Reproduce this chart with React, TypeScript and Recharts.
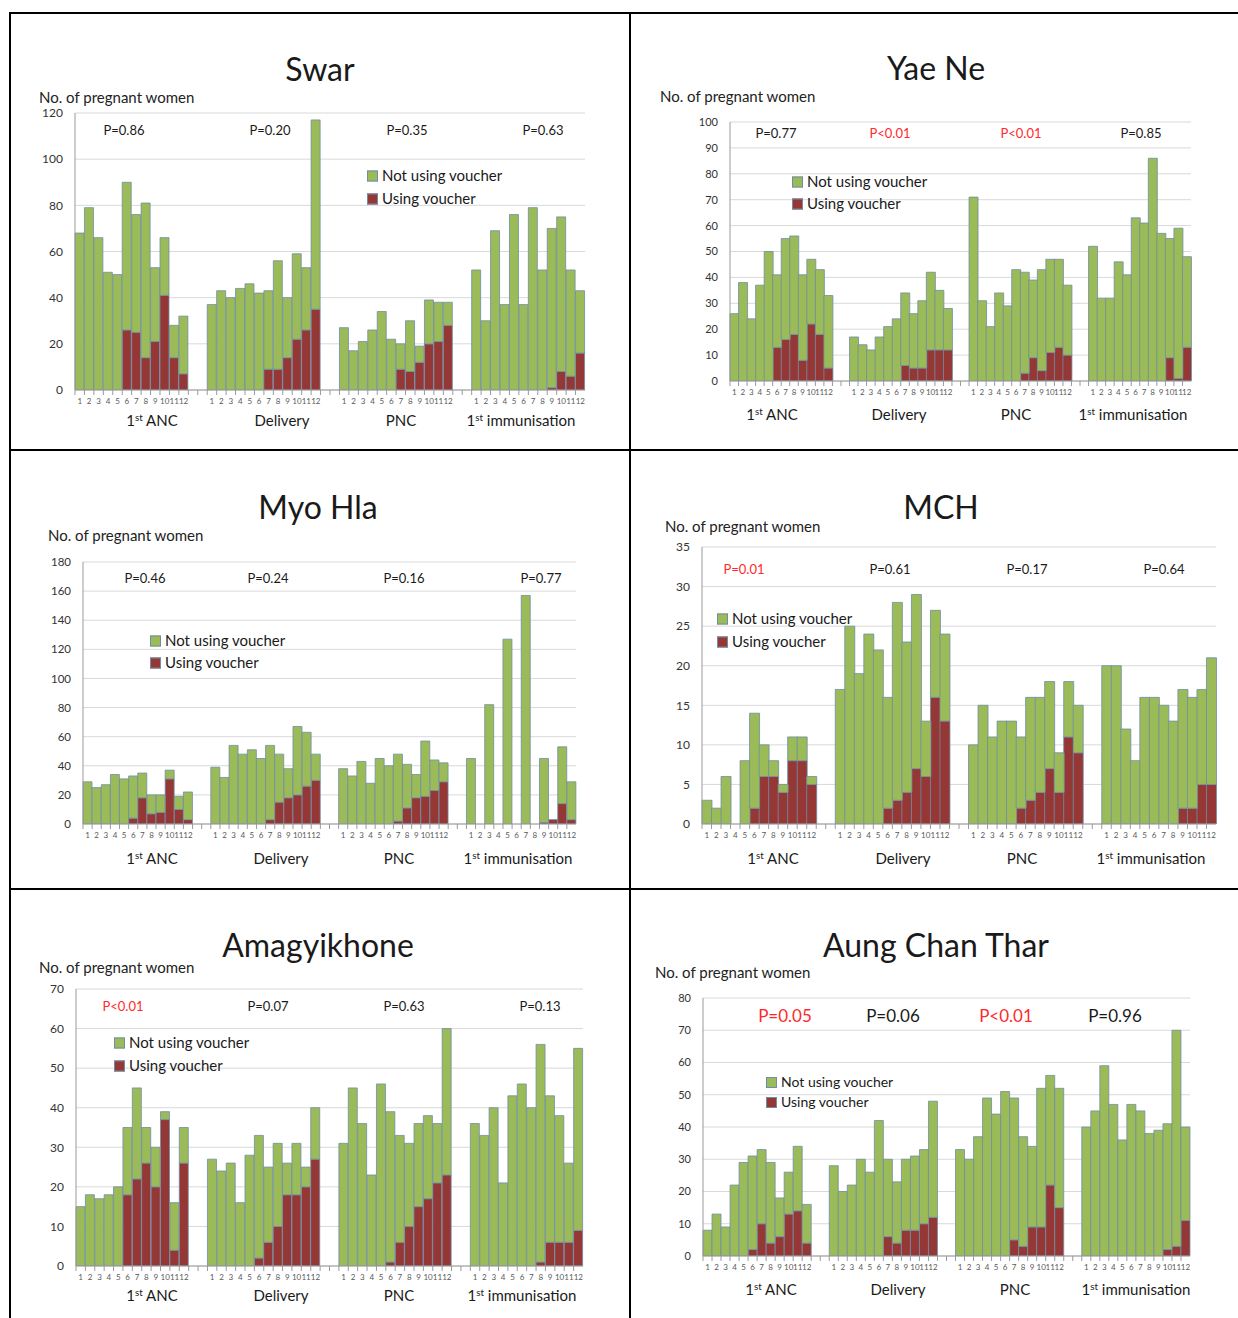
import { Bar, BarChart, CartesianGrid, XAxis, YAxis } from "recharts";

const groups = ["1st ANC", "Delivery", "PNC", "1st immunisation"];
const months = ["1", "2", "3", "4", "5", "6", "7", "8", "9", "10", "11", "12"];

// totals (bar height) and the "using voucher" part, 12 months x 4 services
const swarTotal = [
  68, 79, 66, 51, 50, 90, 76, 81, 53, 66, 28, 32,
  37, 43, 40, 44, 46, 42, 43, 56, 40, 59, 53, 117,
  27, 17, 21, 26, 34, 22, 20, 30, 19, 39, 38, 38,
  52, 30, 69, 37, 76, 37, 79, 52, 70, 75, 52, 43,
];
const swarUsing = [
  0, 0, 0, 0, 0, 26, 25, 14, 21, 41, 14, 7,
  0, 0, 0, 0, 0, 0, 9, 9, 14, 22, 26, 35,
  0, 0, 0, 0, 0, 0, 9, 8, 12, 20, 21, 28,
  0, 0, 0, 0, 0, 0, 0, 0, 1, 8, 6, 16,
];
const yaeNeTotal = [
  26, 38, 24, 37, 50, 41, 55, 56, 41, 47, 43, 33,
  17, 14, 12, 17, 21, 24, 34, 26, 31, 42, 35, 28,
  71, 31, 21, 34, 29, 43, 42, 39, 43, 47, 47, 37,
  52, 32, 32, 46, 41, 63, 61, 86, 57, 55, 59, 48,
];
const yaeNeUsing = [
  0, 0, 0, 0, 0, 13, 16, 18, 8, 22, 18, 5,
  0, 0, 0, 0, 0, 0, 6, 5, 5, 12, 12, 12,
  0, 0, 0, 0, 0, 0, 3, 9, 4, 11, 13, 10,
  0, 0, 0, 0, 0, 0, 0, 0, 0, 9, 1, 13,
];
const myoHlaTotal = [
  29, 25, 27, 34, 31, 33, 35, 20, 20, 37, 19, 22,
  39, 32, 54, 48, 51, 45, 54, 48, 38, 67, 63, 48,
  38, 33, 43, 28, 45, 40, 48, 41, 34, 57, 44, 42,
  45, 0, 82, 0, 127, 0, 157, 0, 45, 3, 53, 29,
];
const myoHlaUsing = [
  0, 0, 0, 0, 0, 4, 18, 7, 8, 31, 10, 3,
  0, 0, 0, 0, 0, 0, 3, 15, 18, 20, 26, 30,
  0, 0, 0, 0, 0, 0, 2, 11, 18, 19, 23, 29,
  0, 0, 0, 0, 0, 0, 0, 0, 1, 3, 14, 3,
];
const mchTotal = [
  3, 2, 6, 0, 8, 14, 10, 8, 5, 11, 11, 6,
  17, 25, 19, 24, 22, 16, 28, 23, 29, 13, 27, 24,
  10, 15, 11, 13, 13, 11, 16, 16, 18, 9, 18, 15,
  20, 20, 12, 8, 16, 16, 15, 13, 17, 16, 17, 21,
];
const mchUsing = [
  0, 0, 0, 0, 0, 2, 6, 6, 4, 8, 8, 5,
  0, 0, 0, 0, 0, 2, 3, 4, 7, 6, 16, 13,
  0, 0, 0, 0, 0, 2, 3, 4, 7, 4, 11, 9,
  0, 0, 0, 0, 0, 0, 0, 0, 2, 2, 5, 5,
];
const amagTotal = [
  15, 18, 17, 18, 20, 35, 45, 35, 30, 39, 16, 35,
  27, 24, 26, 16, 28, 33, 25, 31, 26, 31, 25, 40,
  31, 45, 36, 23, 46, 39, 33, 31, 36, 38, 36, 60,
  36, 33, 40, 21, 43, 46, 40, 56, 43, 38, 26, 55,
];
const amagUsing = [
  0, 0, 0, 0, 0, 18, 22, 26, 20, 37, 4, 26,
  0, 0, 0, 0, 0, 2, 6, 10, 18, 18, 20, 27,
  0, 0, 0, 0, 0, 1, 6, 10, 15, 17, 21, 23,
  0, 0, 0, 0, 0, 0, 0, 1, 6, 6, 6, 9,
];
const actTotal = [
  8, 13, 9, 22, 29, 31, 33, 29, 18, 26, 34, 16,
  28, 20, 22, 30, 26, 42, 30, 23, 30, 31, 33, 48,
  33, 30, 37, 49, 44, 51, 49, 37, 34, 52, 56, 52,
  40, 45, 59, 47, 36, 47, 45, 38, 39, 41, 70, 40,
];
const actUsing = [
  0, 0, 0, 0, 0, 2, 10, 4, 6, 13, 14, 4,
  0, 0, 0, 0, 0, 0, 6, 4, 8, 8, 10, 12,
  0, 0, 0, 0, 0, 0, 5, 3, 9, 9, 22, 15,
  0, 0, 0, 0, 0, 0, 0, 0, 0, 2, 3, 11,
];

const swarP = ["P=0.86", "P=0.20", "P=0.35", "P=0.63"];
const yaeNeP = ["P=0.77", "P<0.01", "P<0.01", "P=0.85"];
const myoHlaP = ["P=0.46", "P=0.24", "P=0.16", "P=0.77"];
const mchP = ["P=0.01", "P=0.61", "P=0.17", "P=0.64"];
const amagP = ["P<0.01", "P=0.07", "P=0.63", "P=0.13"];
const actP = ["P=0.05", "P=0.06", "P<0.01", "P=0.96"];

const GREEN = "#9BBB59";
const RED = "#953735";
const EDGE = "#6F8DA6";
const SIG = "#FF2A2A";

function buildRows(total: number[], using: number[]) {
  const rows: any[] = [];
  groups.forEach((_, g) => {
    months.forEach((m, i) => {
      const t = total[g * 12 + i];
      const u = using[g * 12 + i];
      rows.push({ key: `${g}:${m}`, using: u, notUsing: t - u });
    });
    if (g < groups.length - 1) {
      rows.push({ key: `${g}:gapA`, using: 0, notUsing: 0 });
      rows.push({ key: `${g}:gapB`, using: 0, notUsing: 0 });
    }
  });
  return rows;
}

function ticksTo(max: number, step: number) {
  const out: number[] = [];
  for (let v = 0; v <= max; v += step) out.push(v);
  return out;
}

const centered = (x: number, y: number): any => ({
  position: "absolute",
  left: x,
  top: y,
  transform: "translate(-50%, -50%)",
  whiteSpace: "nowrap",
  lineHeight: 1,
});
const leftMid = (x: number, y: number): any => ({
  position: "absolute",
  left: x,
  top: y,
  transform: "translate(0, -50%)",
  whiteSpace: "nowrap",
  lineHeight: 1,
});

function GroupLabel({ text }: { text: string }) {
  if (text.startsWith("1st")) {
    return (
      <span>
        1<sup style={{ fontSize: "0.65em", verticalAlign: "0.45em" }}>st</sup>
        {text.slice(3)}
      </span>
    );
  }
  return <span>{text}</span>;
}

function Panel({ cfg }: { cfg: any }) {
  const rows = buildRows(cfg.total, cfg.using);
  const plotW = cfg.plot.right - cfg.plot.left;
  const slot = plotW / rows.length;
  const padL = 50;
  const padT = 10;
  const padR = 10;
  const padB = 30;
  const w = plotW + padL + padR;
  const h = cfg.plot.bottom - cfg.plot.top + padT + padB;

  const tick = (p: any) => {
    const raw = String(p.payload.value).split(":")[1];
    const label = raw.startsWith("gap") ? "" : raw;
    const axisY = p.y - 4;
    return (
      <g>
        <line x1={p.x - slot / 2} x2={p.x - slot / 2} y1={axisY} y2={axisY + 5} stroke="#9a9a9a" />
        {label && (
          <text x={p.x} y={p.y + 10} textAnchor="middle" fontSize={8} fill="#595959">
            {label}
          </text>
        )}
      </g>
    );
  };

  return (
    <>
      <div style={{ ...centered(cfg.title[0], cfg.title[1]), fontSize: 32, color: "#1a1a1a" }}>{cfg.name}</div>
      <div style={{ ...leftMid(cfg.yLabel[0], cfg.yLabel[1]), fontSize: 15, color: "#222" }}>No. of pregnant women</div>
      <div style={{ position: "absolute", left: cfg.plot.left - padL, top: cfg.plot.top - padT }}>
        <BarChart
          width={w}
          height={h}
          data={rows}
          margin={{ top: padT, right: padR, left: 0, bottom: 0 }}
          barCategoryGap={0}
          barGap={0}
        >
          <CartesianGrid vertical={false} stroke="#D9D9D9" />
          <XAxis
            dataKey="key"
            interval={0}
            height={padB}
            tickSize={0}
            tickMargin={4}
            stroke="#9a9a9a"
            tick={tick}
          />
          <YAxis
            width={padL}
            domain={[0, cfg.yMax]}
            ticks={ticksTo(cfg.yMax, cfg.yStep)}
            allowDataOverflow
            tickLine={false}
            tickSize={0}
            tickMargin={12}
            stroke="#9a9a9a"
            tick={{ fontSize: cfg.yFont, fill: "#333" }}
          />
          <Bar dataKey="using" stackId="s" fill={RED} stroke={EDGE} strokeWidth={0.8} isAnimationActive={false} />
          <Bar dataKey="notUsing" stackId="s" fill={GREEN} stroke={EDGE} strokeWidth={0.8} isAnimationActive={false} />
        </BarChart>
      </div>
      {cfg.p.map((t: string, i: number) => (
        <div
          key={"p" + i}
          style={{
            ...centered(cfg.pX[i], cfg.pY),
            fontSize: cfg.pFont,
            color: cfg.pRed[i] ? SIG : "#1a1a1a",
          }}
        >
          {t}
        </div>
      ))}
      {groups.map((g, i) => (
        <div key={"g" + i} style={{ ...centered(cfg.gX[i], cfg.gY), fontSize: 15, color: "#1a1a1a" }}>
          <GroupLabel text={g} />
        </div>
      ))}
      {[
        { c: GREEN, t: "Not using voucher", y: cfg.legend[1] },
        { c: RED, t: "Using voucher", y: cfg.legend[2] },
      ].map((l, i) => (
        <div key={"l" + i} style={{ ...leftMid(cfg.legend[0], l.y), fontSize: cfg.legendFont, color: "#1a1a1a" }}>
          <span
            style={{
              display: "inline-block",
              width: 9,
              height: 9,
              background: l.c,
              border: `1px solid ${EDGE}`,
              marginRight: 4,
              verticalAlign: "-1px",
            }}
          />
          {l.t}
        </div>
      ))}
    </>
  );
}

const panels = [
  {
    name: "Swar", total: swarTotal, using: swarUsing, p: swarP, pRed: [false, false, false, false],
    plot: { left: 75, top: 113, right: 585, bottom: 390 }, yMax: 120, yStep: 20, yFont: 12,
    title: [320, 69], yLabel: [39, 97], pY: 130, pX: [124, 270, 407, 543], pFont: 13,
    gY: 420, gX: [152, 282, 401, 521], legend: [367, 175, 198], legendFont: 15,
  },
  {
    name: "Yae Ne", total: yaeNeTotal, using: yaeNeUsing, p: yaeNeP, pRed: [false, true, true, false],
    plot: { left: 730, top: 122, right: 1191, bottom: 381 }, yMax: 100, yStep: 10, yFont: 11,
    title: [936, 68], yLabel: [660, 96], pY: 133, pX: [776, 890, 1021, 1141], pFont: 13,
    gY: 414, gX: [772, 899, 1016, 1133], legend: [792, 181, 203], legendFont: 15,
  },
  {
    name: "Myo Hla", total: myoHlaTotal, using: myoHlaUsing, p: myoHlaP, pRed: [false, false, false, false],
    plot: { left: 83, top: 562, right: 576, bottom: 824 }, yMax: 180, yStep: 20, yFont: 11.5,
    title: [318, 507], yLabel: [48, 535], pY: 578, pX: [145, 268, 404, 541], pFont: 13,
    gY: 858, gX: [152, 281, 399, 518], legend: [150, 640, 662], legendFont: 15,
  },
  {
    name: "MCH", total: mchTotal, using: mchUsing, p: mchP, pRed: [true, false, false, false],
    plot: { left: 702, top: 547, right: 1216, bottom: 824 }, yMax: 35, yStep: 5, yFont: 12,
    title: [941, 507], yLabel: [665, 526], pY: 569, pX: [744, 890, 1027, 1164], pFont: 13,
    gY: 858, gX: [773, 903, 1022, 1151], legend: [717, 618, 641], legendFont: 15,
  },
  {
    name: "Amagyikhone", total: amagTotal, using: amagUsing, p: amagP, pRed: [true, false, false, false],
    plot: { left: 76, top: 989, right: 583, bottom: 1266 }, yMax: 70, yStep: 10, yFont: 12,
    title: [318, 945], yLabel: [39, 967], pY: 1006, pX: [123, 268, 404, 540], pFont: 13,
    gY: 1295, gX: [152, 281, 399, 522], legend: [114, 1042, 1065], legendFont: 15,
  },
  {
    name: "Aung Chan Thar", total: actTotal, using: actUsing, p: actP, pRed: [true, false, true, false],
    plot: { left: 703, top: 998, right: 1190, bottom: 1256 }, yMax: 80, yStep: 10, yFont: 11,
    title: [936, 945], yLabel: [655, 972], pY: 1015, pX: [785, 893, 1006, 1115], pFont: 17,
    gY: 1289, gX: [771, 898, 1015, 1136], legend: [766, 1082, 1102], legendFont: 14,
  },
];

const rule = (left: number, top: number, width: number, height: number): any => ({
  position: "absolute", left, top, width, height, background: "#000",
});

export default function App() {
  return (
    <div
      style={{
        position: "absolute",
        left: 0,
        top: 0,
        width: 1238,
        height: 1318,
        background: "#fff",
        fontFamily: "Lato, 'Open Sans', sans-serif",
        overflow: "hidden",
      }}
    >
      <div style={rule(9, 12, 1229, 2)} />
      <div style={rule(9, 12, 2, 1306)} />
      <div style={rule(629, 12, 2, 1306)} />
      <div style={rule(9, 449, 1229, 2)} />
      <div style={rule(9, 888, 1229, 2)} />
      {panels.map((cfg) => (
        <Panel key={cfg.name} cfg={cfg} />
      ))}
    </div>
  );
}
